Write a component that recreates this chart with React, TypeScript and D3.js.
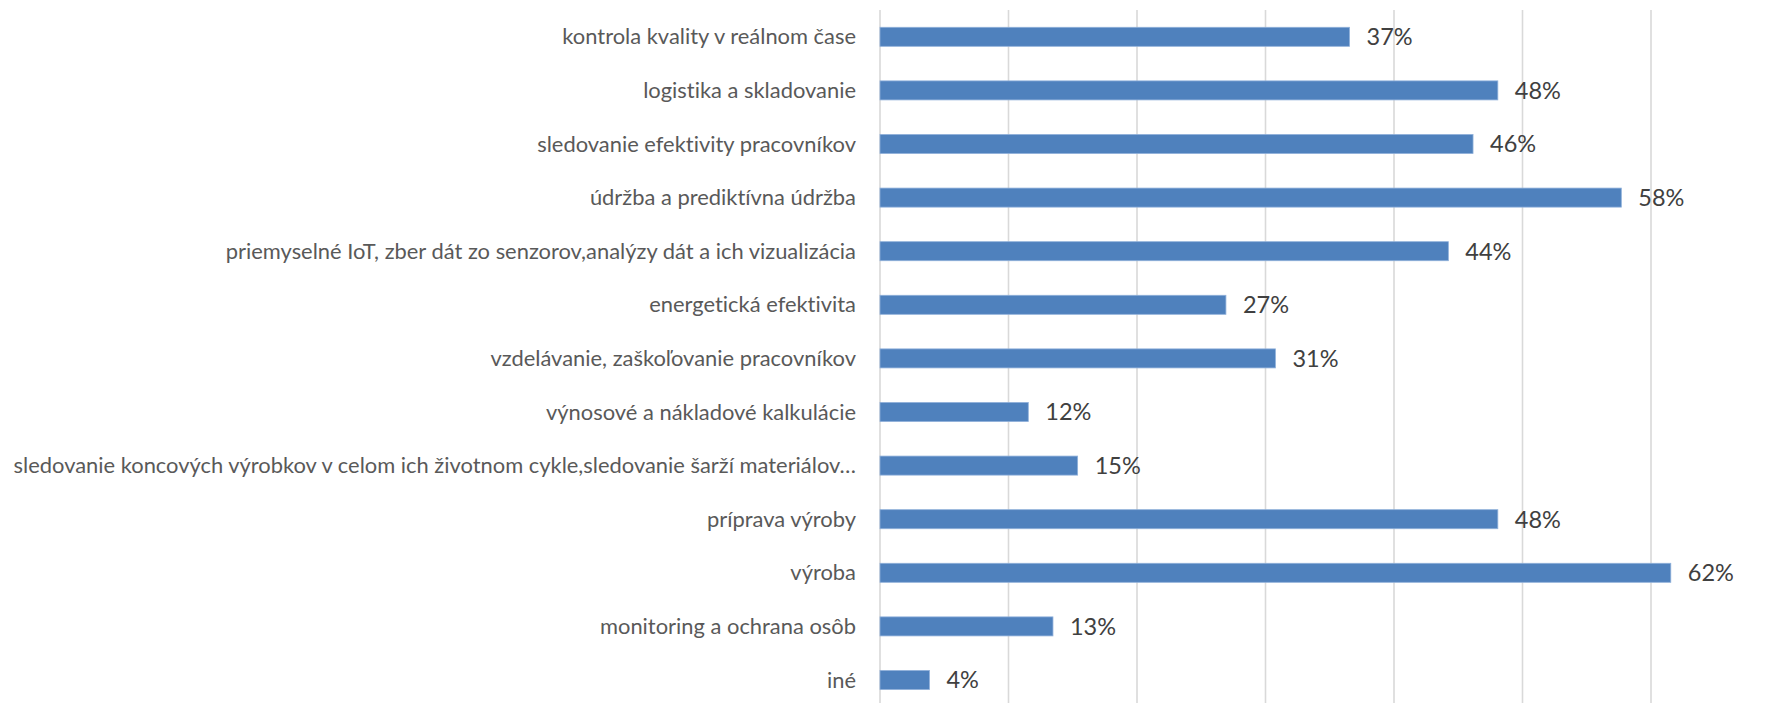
import React from "react";
import * as d3 from "d3";

const categories: string[] = [
  "kontrola kvality v reálnom čase",
  "logistika a skladovanie",
  "sledovanie efektivity pracovníkov",
  "údržba a prediktívna údržba",
  "priemyselné IoT, zber dát zo senzorov,analýzy dát a ich vizualizácia",
  "energetická efektivita",
  "vzdelávanie, zaškoľovanie pracovníkov",
  "výnosové a nákladové kalkulácie",
  "sledovanie koncových výrobkov v celom ich životnom cykle,sledovanie šarží materiálov…",
  "príprava výroby",
  "výroba",
  "monitoring a ochrana osôb",
  "iné",
];

const values: number[] = [
  0.3654, 0.4808, 0.4615, 0.5769, 0.4423, 0.2692, 0.3077, 0.1154, 0.1538,
  0.4808, 0.6154, 0.1346, 0.0385,
];

const xTicks: number[] = [0, 0.1, 0.2, 0.3, 0.4, 0.5, 0.6, 0.7];

const W = 1770;
const H = 703;

export default function App() {
  const x = d3.scaleLinear().domain([0, 0.7]).range([880, 880 + 7 * 128.5]);
  const y = d3
    .scaleBand<string>()
    .domain(categories)
    .range([10, 10 + 13 * 53.6])
    .paddingInner(0.645)
    .paddingOuter(0.3225);
  const bw = y.bandwidth();
  const fmt = d3.format(".0%");

  return (
    <svg
      width={W}
      height={H}
      style={{ position: "absolute", left: 0, top: 0, background: "#fff" }}
    >
      <g>
        {xTicks.map((t) => (
          <line
            key={t}
            x1={x(t)}
            x2={x(t)}
            y1={10}
            y2={H + 10}
            stroke="#d9d9d9"
            strokeWidth={1.6}
          />
        ))}
      </g>
      <g>
        {categories.map((c, i) => (
          <rect
            key={c}
            x={x(0)}
            y={y(c)!}
            width={x(values[i]) - x(0)}
            height={bw}
            fill="#4f81bd"
            stroke="#8fb0da"
            strokeWidth={0.8}
          />
        ))}
      </g>
      <g
        fontFamily="Lato, 'Open Sans', sans-serif"
        fontSize={21.9}
        fill="#595959"
        textAnchor="end"
        style={{ fontVariantLigatures: "none" }}
      >
        {categories.map((c) => (
          <text key={c} x={856} y={y(c)! + bw / 2} dy="0.35em">
            {c}
          </text>
        ))}
      </g>
      <g
        fontFamily="Lato, 'Open Sans', sans-serif"
        fontSize={23.5}
        fill="#404040"
        style={{ fontVariantLigatures: "none" }}
      >
        {categories.map((c, i) => (
          <text key={c} x={x(values[i]) + 17} y={y(c)! + bw / 2} dy="0.36em">
            {fmt(values[i])}
          </text>
        ))}
      </g>
    </svg>
  );
}
